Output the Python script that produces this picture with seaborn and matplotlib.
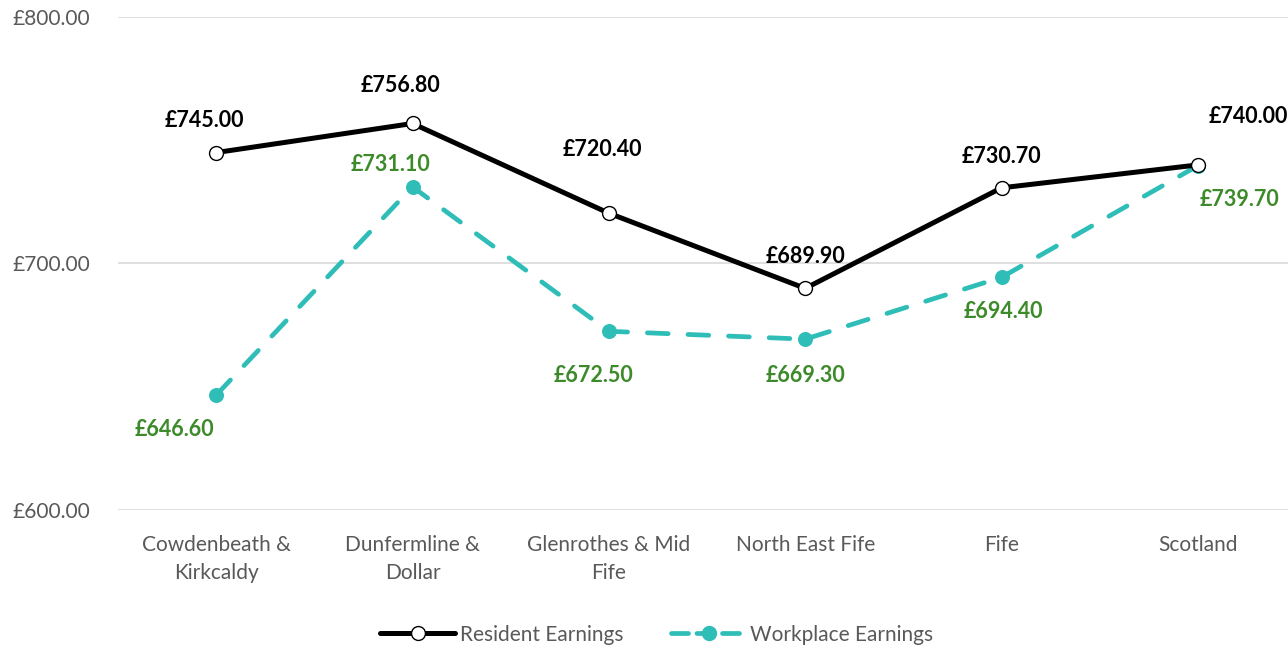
import matplotlib
matplotlib.use("Agg")
import matplotlib.pyplot as plt
import seaborn as sns
import pandas as pd
from matplotlib.lines import Line2D

categories = ["Cowdenbeath &\nKirkcaldy", "Dunfermline &\nDollar", "Glenrothes & Mid\nFife",
              "North East Fife", "Fife", "Scotland"]
resident = [745.00, 756.80, 720.40, 689.90, 730.70, 740.00]
workplace = [646.60, 731.10, 672.50, 669.30, 694.40, 739.70]
yticks = [600, 700, 800]

sns.set_theme(style="white")
plt.rcParams['font.family'] = ['Lato', 'DejaVu Sans']

fig = plt.figure(figsize=(12.88, 6.49), dpi=100)
ax = fig.add_axes([0.0916, 0.2142, 0.9147, 0.7596])

df_r = pd.DataFrame({"cat": categories, "val": resident})
df_w = pd.DataFrame({"cat": categories, "val": workplace})

teal = "#2fbdb8"
green = "#3d8a2b"

sns.lineplot(data=df_r, x="cat", y="val", ax=ax, color="black", lw=3.6,
             marker="o", markersize=10, markerfacecolor="white", markeredgecolor="black",
             markeredgewidth=1.0, zorder=4, sort=False)
sns.lineplot(data=df_w, x="cat", y="val", ax=ax, color=teal, lw=3.4,
             marker="o", markersize=10, markerfacecolor=teal, markeredgecolor=teal,
             zorder=3, sort=False)
wl = ax.lines[1]
wl.set_dashes([4.4, 4.2])
wl.set_dash_capstyle("round")

ax.set_xlim(-0.5, 5.5)
ax.set_ylim(600, 800)
ax.set_yticks(yticks)
ax.set_yticklabels([f"£{v:.2f}" for v in yticks])
ax.grid(axis="y", color="#d9d9d9", lw=1.2)
ax.grid(axis="x", visible=False)
for s in ax.spines.values():
    s.set_visible(False)
ax.set_xlabel("")
ax.set_ylabel("")
ax.tick_params(axis="both", length=0, labelsize=15, labelcolor="#595959")
ax.tick_params(axis="x", pad=18)
ax.tick_params(axis="y", pad=20)
for t in ax.get_xticklabels():
    t.set_linespacing(1.5)

res_off = [(-12, 32), (-12, 38), (-6, 64), (0, 32), (0, 31), (50, 48)]
work_off = [(-42, -34), (-22, 22), (-15, -44), (0, -36), (2, -34), (42, -34)]
for i, (v, o) in enumerate(zip(resident, res_off)):
    ax.annotate(f"£{v:.2f}", (i, v), xytext=o, textcoords="offset pixels",
                ha="center", va="center", fontsize=15.5, fontweight="bold", color="black")
for i, (v, o) in enumerate(zip(workplace, work_off)):
    ax.annotate(f"£{v:.2f}", (i, v), xytext=o, textcoords="offset pixels",
                ha="center", va="center", fontsize=15.5, fontweight="bold", color=green)

handles = [
    Line2D([], [], color="black", lw=3.6, marker="o", markersize=10,
           markerfacecolor="white", markeredgecolor="black"),
    Line2D([], [], color=teal, lw=3.4, marker="o", markersize=10,
           markerfacecolor=teal, markeredgecolor=teal, dashes=[3.6, 1.8],
           dash_capstyle="round"),
]
leg = fig.legend(handles, ["Resident Earnings", "Workplace Earnings"], loc="center",
                 bbox_to_anchor=(0.51, 0.022), ncol=2, frameon=False, fontsize=15,
                 handlelength=3.6, columnspacing=2.3, handletextpad=0.2)
for t in leg.get_texts():
    t.set_color("#595959")

fig.savefig("out.png", dpi=100)
